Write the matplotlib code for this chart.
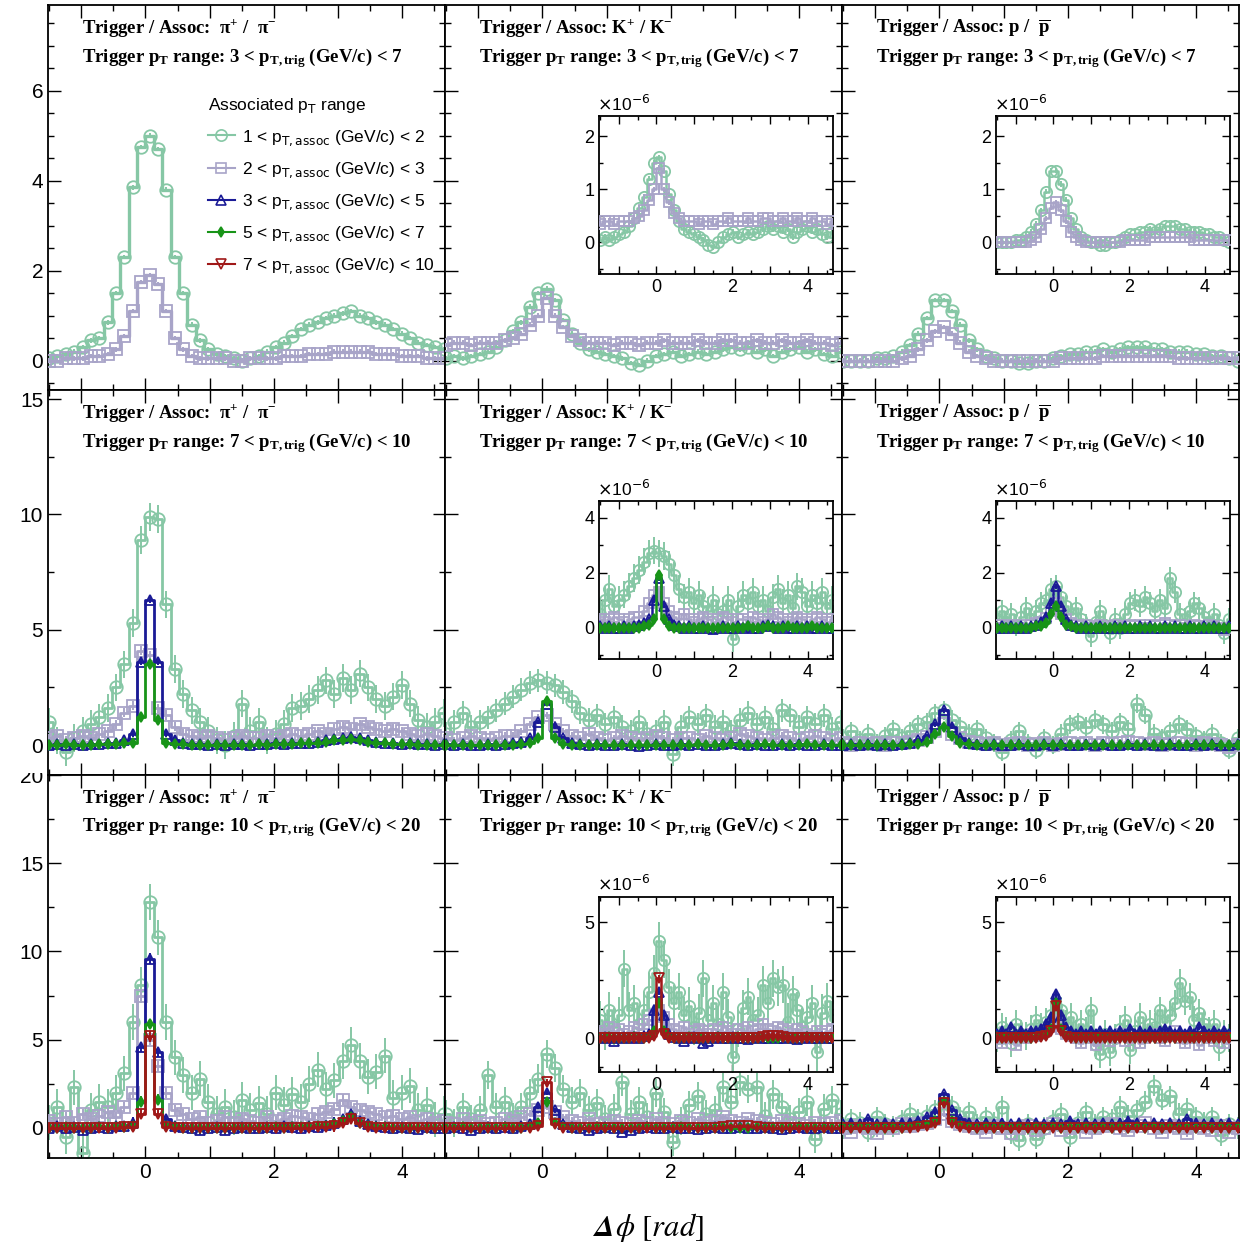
import numpy as np
import matplotlib
matplotlib.use("Agg")
import matplotlib.pyplot as plt
from matplotlib.lines import Line2D
from matplotlib.patches import Rectangle
from matplotlib.ticker import MultipleLocator, FuncFormatter
from matplotlib.font_manager import FontProperties

plt.rcParams['font.family'] = 'Liberation Sans'
plt.rcParams['mathtext.fontset'] = 'custom'
plt.rcParams['mathtext.rm'] = 'Liberation Serif:bold'
plt.rcParams['mathtext.it'] = 'Liberation Serif:italic:bold'
plt.rcParams['mathtext.bf'] = 'Liberation Serif:bold'

# 48 delta-phi bins from -pi/2 to 3pi/2
NBINS = 48
DPHI = -np.pi / 2 + (np.arange(NBINS) + 0.5) * 2 * np.pi / NBINS

# ---- trigger 3 < pT < 7 ----
pi_t1_a1 = [0.05, 0.1, 0.15, 0.2, 0.3, 0.45, 0.5, 0.85, 1.5, 2.3, 3.85, 4.75,
            5.0, 4.7, 3.8, 2.3, 1.5, 0.8, 0.45, 0.25, 0.15, 0.1, 0.05, 0.0,
            0.05, 0.1, 0.2, 0.3, 0.4, 0.55, 0.7, 0.8, 0.85, 0.95, 1.0, 1.05,
            1.1, 1.0, 0.95, 0.85, 0.8, 0.7, 0.6, 0.5, 0.4, 0.35, 0.3, 0.25]
pi_t1_a2 = [0.0, 0.0, 0.05, 0.05, 0.05, 0.1, 0.1, 0.15, 0.25, 0.55, 1.1, 1.75,
            1.9, 1.7, 1.1, 0.5, 0.25, 0.1, 0.05, 0.05, 0.05, 0.05, 0.0, 0.0,
            0.05, 0.05, 0.05, 0.05, 0.1, 0.1, 0.1, 0.15, 0.15, 0.15, 0.2, 0.2,
            0.2, 0.2, 0.2, 0.15, 0.15, 0.15, 0.1, 0.1, 0.1, 0.05, 0.05, 0.05]
k_t1_a1 = [0.05, 0.1, 0.05, 0.1, 0.15, 0.2, 0.3, 0.45, 0.65, 0.85, 1.2, 1.5,
           1.6, 1.35, 0.9, 0.6, 0.4, 0.25, 0.2, 0.15, 0.1, 0.05, -0.05, -0.1,
           0.0, 0.1, 0.15, 0.2, 0.1, 0.15, 0.2, 0.15, 0.2, 0.25, 0.3, 0.25,
           0.3, 0.2, 0.25, 0.1, 0.2, 0.25, 0.3, 0.2, 0.25, 0.15, 0.1, 0.2]
k_t1_a2 = [0.35, 0.4, 0.4, 0.35, 0.4, 0.4, 0.4, 0.45, 0.5, 0.6, 0.8, 1.0,
           1.4, 1.0, 0.75, 0.55, 0.45, 0.4, 0.4, 0.4, 0.35, 0.4, 0.4, 0.35,
           0.4, 0.4, 0.45, 0.4, 0.4, 0.4, 0.45, 0.4, 0.4, 0.45, 0.45, 0.4,
           0.4, 0.45, 0.4, 0.4, 0.45, 0.4, 0.4, 0.45, 0.4, 0.4, 0.35, 0.4]
p_t1_a1 = [0.0, 0.0, 0.0, 0.0, 0.05, 0.05, 0.1, 0.2, 0.35, 0.6, 0.95, 1.35,
           1.35, 1.1, 0.8, 0.45, 0.25, 0.1, 0.05, 0.0, 0.0, -0.05, -0.05, 0.0,
           0.0, 0.05, 0.1, 0.15, 0.15, 0.2, 0.2, 0.25, 0.2, 0.25, 0.3, 0.3,
           0.3, 0.25, 0.25, 0.2, 0.2, 0.2, 0.15, 0.15, 0.1, 0.1, 0.05, 0.0]
p_t1_a2 = [0.0, 0.0, 0.0, 0.0, 0.0, 0.0, 0.0, 0.05, 0.1, 0.25, 0.45, 0.65,
           0.75, 0.6, 0.4, 0.2, 0.1, 0.05, 0.0, 0.0, 0.0, 0.0, 0.0, 0.0,
           0.0, 0.0, 0.05, 0.05, 0.05, 0.05, 0.05, 0.1, 0.1, 0.1, 0.1, 0.1,
           0.1, 0.1, 0.1, 0.1, 0.05, 0.05, 0.05, 0.05, 0.05, 0.05, 0.05, 0.05]

# ---- trigger 7 < pT < 10 ----
pi_t2_a1 = [1.0, 0.2, -0.3, 0.3, 0.6, 0.9, 1.2, 1.6, 2.5, 3.5, 5.3, 8.9,
            9.9, 9.8, 6.1, 3.3, 2.2, 1.5, 1.0, 0.6, 0.2, 0.0, 0.4, 1.8,
            0.6, 1.0, 0.2, 0.5, 0.9, 1.6, 1.7, 2.0, 2.4, 2.8, 2.2, 2.9,
            2.4, 3.1, 2.5, 2.0, 1.7, 2.1, 2.6, 1.8, 1.1, 0.8, 1.0, 1.4]
pi_t2_a2 = [0.3, 0.4, 0.2, 0.3, 0.4, 0.3, 0.5, 0.6, 0.9, 1.4, 1.7, 4.1,
            3.9, 1.6, 1.3, 0.8, 0.5, 0.4, 0.3, 0.4, 0.3, 0.2, 0.3, 0.4,
            0.3, 0.3, 0.4, 0.3, 0.4, 0.5, 0.4, 0.5, 0.6, 0.5, 0.7, 0.8,
            0.7, 0.9, 0.8, 0.7, 0.6, 0.7, 0.6, 0.5, 0.4, 0.5, 0.4, 0.3]
pi_t2_a3 = [0.0, 0.05, 0.0, 0.05, 0.0, 0.05, 0.05, 0.1, 0.1, 0.2, 0.5, 3.6,
            6.3, 3.6, 0.5, 0.2, 0.1, 0.05, 0.05, 0.0, 0.05, 0.0, 0.05, 0.05,
            0.0, 0.05, 0.05, 0.1, 0.05, 0.1, 0.1, 0.1, 0.15, 0.2, 0.25, 0.3,
            0.35, 0.3, 0.2, 0.15, 0.1, 0.1, 0.05, 0.1, 0.05, 0.05, 0.0, 0.05]
pi_t2_a4 = [0.0, 0.0, 0.05, 0.0, 0.0, 0.0, 0.05, 0.05, 0.05, 0.1, 0.1, 1.2,
            3.5, 1.1, 0.1, 0.05, 0.05, 0.0, 0.0, 0.0, 0.0, 0.0, 0.0, 0.0,
            0.0, 0.05, 0.0, 0.05, 0.05, 0.05, 0.1, 0.1, 0.1, 0.15, 0.2, 0.2,
            0.25, 0.2, 0.15, 0.1, 0.1, 0.05, 0.05, 0.05, 0.0, 0.0, 0.0, 0.0]
k_t2_a1 = [0.5, 1.0, 1.4, 0.8, 1.0, 1.2, 1.5, 1.8, 2.1, 2.4, 2.7, 2.8,
           2.7, 2.6, 2.3, 1.9, 1.4, 1.1, 1.3, 0.9, 1.2, 0.8, 0.6, 1.0,
           0.5, 0.6, 1.0, -0.4, 0.8, 1.2, 0.9, 1.3, 0.8, 1.0, 0.6, 1.1,
           1.4, 0.9, 1.2, 0.7, 1.5, 1.3, 0.8, 1.2, 0.9, 1.3, 0.7, 1.0]
k_t2_a2 = [0.3, 0.2, 0.3, 0.4, 0.3, 0.2, 0.3, 0.4, 0.4, 0.6, 0.9, 1.2,
           1.3, 0.9, 0.6, 0.4, 0.3, 0.5, 0.3, 0.2, 0.3, 0.4, 0.3, 0.2,
           0.3, 0.4, 0.3, 0.2, 0.3, 0.3, 0.2, 0.4, 0.3, 0.2, 0.3, 0.5,
           0.4, 0.3, 0.2, 0.3, 0.4, 0.3, 0.2, 0.3, 0.4, 0.3, 0.2, 0.3]
k_t2_a3 = [0.05, 0.0, 0.05, 0.0, 0.0, 0.05, 0.0, 0.05, 0.1, 0.15, 0.3, 1.0,
           1.8, 0.8, 0.3, 0.1, 0.05, 0.0, 0.05, 0.0, 0.0, 0.05, 0.0, -0.05,
           0.0, 0.05, 0.0, 0.0, 0.05, 0.0, 0.05, 0.0, 0.0, 0.05, 0.1, 0.05,
           0.0, 0.05, 0.0, 0.0, 0.05, 0.0, 0.05, 0.0, 0.0, 0.05, 0.0, 0.0]
k_t2_a4 = [0.0, 0.0, 0.0, 0.0, 0.0, 0.0, 0.0, 0.0, 0.0, 0.05, 0.1, 0.3,
           1.9, 0.3, 0.05, 0.0, 0.0, 0.0, 0.0, 0.0, 0.0, 0.0, 0.0, 0.0,
           0.0, 0.0, 0.0, 0.0, 0.0, 0.0, 0.05, 0.0, 0.0, 0.0, 0.05, 0.0,
           0.0, 0.0, 0.05, 0.0, 0.0, 0.0, 0.0, 0.05, 0.0, 0.0, 0.0, 0.0]
p_t2_a1 = [0.3, 0.6, 0.2, 0.5, 0.1, 0.4, 0.7, 0.3, 0.6, 0.9, 1.0, 1.4,
           1.5, 1.1, 0.8, 0.5, 0.7, 0.3, 0.1, -0.3, 0.2, 0.6, 0.1, -0.2,
           0.3, 0.0, 0.5, 0.9, 1.0, 0.8, 1.1, 0.9, 0.6, 1.0, 0.7, 1.8,
           1.3, 0.5, 0.3, 0.6, 0.9, 0.7, 0.4, 0.2, 0.5, 0.1, -0.2, 0.3]
p_t2_a2 = [0.1, 0.0, 0.1, 0.05, 0.1, 0.0, 0.1, 0.1, 0.15, 0.2, 0.35, 0.6,
           0.9, 0.5, 0.3, 0.15, 0.1, 0.05, 0.1, 0.0, 0.05, 0.1, 0.0, 0.05,
           0.1, 0.0, 0.05, 0.1, 0.05, 0.1, 0.0, 0.1, 0.05, 0.1, 0.15, 0.1,
           0.05, 0.1, 0.0, 0.05, 0.1, 0.05, 0.0, 0.1, 0.05, 0.0, -0.1, 0.0]
p_t2_a3 = [0.0, 0.05, 0.0, 0.05, 0.0, 0.05, 0.0, 0.05, 0.1, 0.2, 0.4, 0.9,
           1.5, 0.8, 0.3, 0.1, 0.05, 0.0, 0.05, 0.0, 0.0, 0.05, 0.0, 0.0,
           0.05, 0.0, 0.05, 0.0, 0.0, 0.05, 0.0, 0.05, 0.0, 0.0, 0.05, 0.0,
           0.05, 0.0, 0.0, 0.05, 0.0, 0.0, 0.05, 0.0, 0.05, 0.0, 0.0, 0.05]
p_t2_a4 = [0.0, 0.0, 0.0, 0.0, 0.0, 0.0, 0.0, 0.0, 0.05, 0.05, 0.15, 0.5,
           0.8, 0.4, 0.1, 0.05, 0.0, 0.0, 0.0, 0.0, 0.0, 0.0, 0.0, 0.0,
           0.0, 0.0, 0.0, 0.0, 0.0, 0.0, 0.0, 0.0, 0.0, 0.0, 0.0, 0.0,
           0.0, 0.0, 0.0, 0.0, 0.0, 0.0, 0.0, 0.0, 0.0, 0.0, 0.0, 0.0]

# ---- trigger 10 < pT < 20 ----
pi_t3_a1 = [0.3, 1.2, -0.5, 2.3, -1.4, 1.0, 1.5, 1.2, 2.0, 3.1, 6.0, 8.1,
            12.8, 10.8, 6.0, 4.0, 3.0, 2.0, 2.8, 1.5, 0.8, 1.2, 0.6, 1.6,
            1.0, 1.4, 0.8, 2.0, 1.3, 1.9, 1.5, 2.5, 3.3, 2.2, 2.7, 3.8,
            4.7, 3.8, 2.9, 3.2, 4.1, 1.7, 2.0, 2.4, 1.0, 1.3, 0.5, 0.8]
pi_t3_a2 = [0.4, 0.2, 0.6, 0.3, 0.8, 0.5, 0.7, 0.9, 0.6, 1.2, 2.0, 7.5,
            5.0, 3.5, 2.0, 1.0, 0.8, 0.5, 0.6, 0.3, 0.4, 0.6, 0.3, 0.5,
            0.4, 0.3, 0.6, 0.4, 0.5, 0.7, 0.6, 0.5, 0.8, 0.9, 1.1, 1.6,
            1.2, 1.0, 0.9, 0.8, 0.6, 0.7, 0.5, 0.6, 0.4, 0.5, 0.3, 0.4]
pi_t3_a3 = [0.0, 0.1, 0.0, 0.05, -0.1, 0.0, 0.05, 0.0, 0.1, 0.1, 0.3, 4.6,
            9.6, 4.3, 0.5, 0.1, 0.05, 0.0, -0.1, 0.0, 0.05, -0.1, 0.0, 0.05,
            0.0, 0.0, 0.05, 0.0, 0.1, 0.05, 0.0, 0.1, 0.05, 0.15, 0.3, 0.5,
            0.8, 0.4, 0.2, 0.1, 0.05, 0.0, 0.05, 0.0, -0.05, 0.05, 0.0, 0.0]
pi_t3_a4 = [0.0, 0.0, 0.05, 0.0, 0.0, 0.0, 0.05, 0.0, 0.05, 0.05, 0.1, 1.5,
            5.9, 1.6, 0.1, 0.05, 0.0, 0.0, 0.0, 0.0, 0.0, 0.0, 0.0, 0.0,
            0.0, 0.0, 0.0, 0.05, 0.0, 0.05, 0.05, 0.05, 0.1, 0.1, 0.2, 0.4,
            0.6, 0.3, 0.1, 0.05, 0.05, 0.0, 0.0, 0.0, 0.0, 0.0, 0.0, 0.0]
pi_t3_a5 = [0.0, 0.0, 0.0, 0.0, 0.0, 0.0, 0.0, 0.0, 0.0, 0.05, 0.05, 0.8,
            5.2, 0.8, 0.05, 0.0, 0.0, 0.0, 0.0, 0.0, 0.0, 0.0, 0.0, 0.0,
            0.0, 0.0, 0.0, 0.0, 0.0, 0.0, 0.0, 0.0, 0.05, 0.05, 0.1, 0.3,
            0.5, 0.3, 0.05, 0.0, 0.0, 0.0, 0.0, 0.0, 0.0, 0.0, 0.0, 0.0]
k_t3_a1 = [0.8, 0.3, 1.2, 0.5, 1.0, 3.0, 1.2, 1.5, 0.6, 1.2, 2.0, 2.8,
           4.2, 3.4, 2.2, 1.5, 2.0, 1.0, 1.4, 0.5, 1.1, 2.6, 0.8, 1.5,
           0.6, 2.0, 0.9, -0.8, 0.4, 1.3, 1.8, 0.8, 1.0, 2.3, 1.5, 2.6,
           2.2, 2.3, 0.7, 1.9, 1.2, 0.5, 0.9, 1.5, -0.6, 1.1, 1.6, 0.8]
k_t3_a2 = [0.3, 0.2, 0.5, 0.3, 0.4, 0.2, 0.3, 0.5, 0.4, 0.6, 0.8, 1.0,
           1.2, 0.9, 0.6, 0.4, 0.3, 0.5, 0.2, 0.3, 0.4, 0.3, 0.2, 0.4,
           0.3, 0.5, 0.3, 0.2, 0.4, 0.3, 0.5, 0.3, 0.4, 0.6, 0.4, 0.3,
           0.5, 0.4, 0.3, 0.2, 0.4, 0.3, 0.2, 0.1, 0.3, 0.2, 0.3, 0.4]
k_t3_a3 = [0.0, 0.05, 0.0, -0.1, 0.0, 0.05, 0.0, 0.05, 0.0, 0.1, 0.2, 1.2,
           2.0, 1.0, 0.2, 0.05, 0.0, -0.1, 0.0, 0.05, 0.0, -0.2, -0.1, 0.0,
           0.05, 0.0, 0.0, 0.05, 0.0, 0.0, -0.05, 0.0, 0.05, 0.0, 0.0, 0.05,
           0.0, 0.0, 0.05, 0.0, -0.05, 0.0, 0.05, 0.0, 0.0, 0.05, 0.0, 0.0]
k_t3_a4 = [0.0, 0.0, 0.05, 0.0, 0.0, 0.0, 0.0, 0.05, 0.0, 0.0, 0.05, 0.3,
           1.5, 0.3, 0.05, 0.0, 0.0, 0.0, 0.05, 0.0, 0.0, 0.0, 0.0, 0.0,
           0.05, 0.0, 0.0, 0.0, 0.05, 0.0, 0.0, 0.0, 0.0, 0.05, 0.0, 0.0,
           0.0, 0.05, 0.0, 0.0, 0.0, 0.0, 0.05, 0.0, 0.0, 0.0, 0.0, 0.0]
k_t3_a5 = [0.0, 0.0, 0.0, 0.0, 0.0, 0.0, 0.0, 0.0, 0.0, 0.0, 0.0, 0.1,
           2.6, 0.2, 0.0, 0.0, 0.0, 0.0, 0.0, 0.0, 0.0, 0.0, 0.0, 0.0,
           0.0, 0.0, 0.0, 0.0, 0.0, 0.0, 0.0, 0.0, 0.0, 0.05, 0.1, 0.1,
           0.1, 0.05, 0.0, 0.0, 0.0, 0.0, 0.0, 0.0, 0.0, 0.0, 0.0, 0.0]
p_t3_a1 = [0.0, 0.5, 0.3, -0.2, 0.6, 0.2, 0.1, 0.4, 0.8, 0.5, 0.7, 1.0,
           1.4, 1.2, 0.6, 0.9, 0.2, 0.6, 0.3, 1.2, -0.3, -0.7, 0.2, -0.6,
           0.0, 0.4, 0.8, -0.5, 0.3, 0.9, 0.2, 0.6, 0.5, 1.2, 0.7, 1.0,
           1.5, 2.4, 1.6, 1.8, 0.8, 1.1, 0.6, 0.3, 0.6, -0.4, 0.2, 0.0]
p_t3_a2 = [0.0, -0.2, 0.1, 0.0, -0.3, 0.1, 0.0, 0.2, 0.1, 0.2, 0.3, 0.5,
           0.8, 0.4, 0.2, 0.1, 0.0, -0.2, 0.1, 0.0, -0.3, 0.0, 0.1, -0.1,
           0.0, 0.2, -0.1, 0.0, 0.1, -0.2, 0.0, 0.1, 0.2, 0.0, -0.1, 0.1,
           0.3, 0.0, -0.2, 0.1, 0.0, -0.3, 0.1, 0.0, -0.1, 0.1, -0.2, 0.0]
p_t3_a3 = [0.2, 0.3, 0.2, 0.5, 0.2, 0.3, 0.2, 0.3, 0.3, 0.4, 0.6, 0.9,
           1.9, 1.0, 0.5, 0.3, 0.2, 0.3, 0.2, 0.3, 0.2, 0.3, 0.2, 0.3,
           0.2, 0.3, 0.2, 0.4, 0.2, 0.3, 0.2, 0.3, 0.2, 0.3, 0.4, 0.3,
           0.2, 0.3, 0.2, 0.3, 0.2, 0.5, 0.3, 0.2, 0.3, 0.2, 0.3, 0.2]
p_t3_a4 = [0.05, 0.0, 0.05, 0.0, 0.05, 0.0, 0.05, 0.0, 0.05, 0.1, 0.15, 0.4,
           1.5, 0.4, 0.1, 0.05, 0.0, 0.05, 0.0, 0.05, 0.0, 0.05, 0.0, 0.05,
           0.0, 0.05, 0.0, 0.05, 0.0, 0.05, 0.0, 0.05, 0.0, 0.05, 0.0, 0.05,
           0.0, 0.05, 0.0, 0.05, 0.0, 0.05, 0.0, 0.05, 0.0, 0.05, 0.0, 0.05]
p_t3_a5 = [0.0, 0.0, 0.0, 0.0, 0.0, 0.0, 0.0, 0.0, 0.0, 0.05, 0.1, 0.3,
           1.4, 0.3, 0.05, 0.0, 0.0, 0.0, 0.0, 0.0, 0.0, 0.0, 0.0, 0.0,
           0.0, 0.0, 0.0, 0.0, 0.0, 0.0, 0.0, 0.0, 0.0, 0.0, 0.0, 0.0,
           0.0, 0.0, 0.0, 0.0, 0.0, 0.0, 0.0, 0.0, 0.0, 0.0, 0.0, 0.0]

# typical statistical error of each series, per panel
err_pi_t1 = [0.05, 0.05]
err_k_t1 = [0.05, 0.05]
err_p_t1 = [0.05, 0.05]
err_pi_t2 = [0.6, 0.2, 0.15, 0.15]
err_k_t2 = [0.5, 0.15, 0.1, 0.1]
err_p_t2 = [0.4, 0.1, 0.1, 0.1]
err_pi_t3 = [1.0, 0.3, 0.3, 0.3, 0.3]
err_k_t3 = [0.8, 0.2, 0.15, 0.15, 0.15]
err_p_t3 = [0.6, 0.2, 0.15, 0.15, 0.15]

PANELS = [
    [([pi_t1_a1, pi_t1_a2], err_pi_t1), ([k_t1_a1, k_t1_a2], err_k_t1), ([p_t1_a1, p_t1_a2], err_p_t1)],
    [([pi_t2_a1, pi_t2_a2, pi_t2_a3, pi_t2_a4], err_pi_t2),
     ([k_t2_a1, k_t2_a2, k_t2_a3, k_t2_a4], err_k_t2),
     ([p_t2_a1, p_t2_a2, p_t2_a3, p_t2_a4], err_p_t2)],
    [([pi_t3_a1, pi_t3_a2, pi_t3_a3, pi_t3_a4, pi_t3_a5], err_pi_t3),
     ([k_t3_a1, k_t3_a2, k_t3_a3, k_t3_a4, k_t3_a5], err_k_t3),
     ([p_t3_a1, p_t3_a2, p_t3_a3, p_t3_a4, p_t3_a5], err_p_t3)],
]

SPECIES = [r'Trigger / Assoc:  $\mathrm{\pi}^{+}$ /  $\mathrm{\pi}^{-}$',
           r'Trigger / Assoc: K$^{+}$ / K$^{-}$',
           r'Trigger / Assoc: p /  $\overline{\mathrm{p}}$']
TRIG_RANGES = [('3', '7'), ('7', '10'), ('10', '20')]
ASSOC_RANGES = [('1', '2'), ('2', '3'), ('3', '5'), ('5', '7'), ('7', '10')]

STYLES = [
    dict(color='#86c7a5', marker='o', ms=9.0, mfc='none'),
    dict(color='#a8a4c8', marker='s', ms=8.5, mfc='none'),
    dict(color='#1a1a96', marker='^', ms=7.5, mfc='none'),
    dict(color='#189418', marker='d', ms=5.5, mfc='#189418'),
    dict(color='#a01818', marker='v', ms=7.5, mfc='none'),
]

XLIM = (-1.52, 4.67)
YLIM_MAIN = [(-0.65, 7.9), (-1.3, 15.4), (-1.7, 20.0)]
YTICK_MAIN = [(2, 0.5), (5, 2.5), (5, 2.5)]
YLIM_INSET = [(-0.6, 2.38), (-1.14, 4.6), (-1.46, 6.1)]
YTICK_INSET = [(1, 0.5), (2, 1), (5, 1.25)]

W, H = 1240.0, 1254.0
COL_X = [48, 445, 842]
COL_W = 397
ROW_Y = [5, 390, 775]
ROW_H = [385, 385, 383]
INSET_DX, INSET_W = 154, 234
INSET_BOX = [(111, 158), (111, 158), (122, 175)]

fig = plt.figure(figsize=(12.4, 12.54), dpi=100)


def px_axes(x, y, w, h):
    return fig.add_axes([x / W, 1 - (y + h) / H, w / W, h / H])


def even_label(v, pos):
    n = int(round(v))
    if abs(v - n) < 1e-6 and n % 2 == 0:
        return str(n)
    return ''


def draw_series(ax, series, errs, lw, ms_scale):
    for k, (vals, e) in enumerate(zip(series, errs)):
        st = STYLES[k]
        y = np.asarray(vals)
        ax.plot(DPHI, y, drawstyle='steps-mid', color=st['color'], lw=lw, zorder=2 + k)
        ax.errorbar(DPHI, y, yerr=e, fmt=st['marker'], ms=st['ms'] * ms_scale,
                    mfc=st['mfc'], mec=st['color'], mew=1.3, ecolor=st['color'],
                    elinewidth=1.4, capsize=0, zorder=2 + k)


def style_ticks(ax, xmaj, xmin, ymaj, ymin, size, long, yfmt=None):
    ax.xaxis.set_major_locator(MultipleLocator(xmaj))
    ax.xaxis.set_minor_locator(MultipleLocator(xmin))
    ax.yaxis.set_major_locator(MultipleLocator(ymaj))
    ax.yaxis.set_minor_locator(MultipleLocator(ymin))
    ax.xaxis.set_major_formatter(FuncFormatter(even_label))
    if yfmt is not None:
        ax.yaxis.set_major_formatter(yfmt)
    ax.tick_params(which='both', direction='in', top=True, right=True,
                   labelsize=size, width=1.0, colors='black')
    ax.tick_params(which='major', length=long)
    ax.tick_params(which='minor', length=long * 0.5)
    for s in ax.spines.values():
        s.set_linewidth(1.3)


int_label = FuncFormatter(lambda v, p: '%d' % round(v))

for r in range(3):
    for c in range(3):
        series, errs = PANELS[r][c]
        ax = px_axes(COL_X[c], ROW_Y[r], COL_W, ROW_H[r])
        draw_series(ax, series, errs, lw=2.4 if r == 0 else 2.0, ms_scale=1.0)
        ax.set_xlim(XLIM)
        ax.set_ylim(YLIM_MAIN[r])
        style_ticks(ax, 1, 0.5, YTICK_MAIN[r][0], YTICK_MAIN[r][1], 15, 9, int_label)
        ax.tick_params(labelleft=(c == 0), labelbottom=(r == 2))

        lo, hi = TRIG_RANGES[r]
        ax.text(0.086, 0.927, SPECIES[c], transform=ax.transAxes, family='Liberation Serif',
                weight='bold', fontsize=13.5, clip_on=True, zorder=10)
        ax.text(0.086, 0.852,
                r'Trigger p$_{\mathrm{T}}$ range: %s < p$_{\mathrm{T,trig}}$ (GeV/c) < %s' % (lo, hi),
                transform=ax.transAxes, family='Liberation Serif', weight='bold',
                fontsize=13.5, clip_on=True, zorder=10)

        if r == 0 and c == 0:
            handles = []
            labels = []
            for k, (a, b) in enumerate(ASSOC_RANGES):
                st = STYLES[k]
                handles.append(Line2D([], [], color=st['color'], lw=1.5, marker=st['marker'],
                                      ms=st['ms'] * 0.9, mfc=st['mfc'], mec=st['color'], mew=1.2))
                labels.append(r'%s < p$_{\mathrm{T,assoc}}$ (GeV/c) < %s' % (a, b))
            sans = FontProperties(family='Liberation Sans', size=12.5, math_fontfamily='dejavusans')
            ax.legend(handles, labels, loc='upper left', bbox_to_anchor=(0.38, 0.785),
                      frameon=False, prop=sans, title=r'Associated p$_{\mathrm{T}}$ range',
                      title_fontproperties=sans, alignment='left', borderpad=0,
                      handlelength=1.6, handletextpad=0.4, labelspacing=0.72)

        # zoomed view of the same distribution for kaons and protons
        if c > 0:
            dy, hh = INSET_BOX[r]
            axi = px_axes(COL_X[c] + INSET_DX, ROW_Y[r] + dy, INSET_W, hh)
            draw_series(axi, series, errs, lw=1.8, ms_scale=0.9)
            axi.set_xlim(XLIM)
            axi.set_ylim(YLIM_INSET[r])
            style_ticks(axi, 1, 0.5, YTICK_INSET[r][0], YTICK_INSET[r][1], 13, 6, int_label)
            axi.text(-0.01, 1.015, r'$\times$10$^{-6}$', transform=axi.transAxes,
                     fontsize=12.5, ha='left', va='bottom', math_fontfamily='dejavusans')

# the pad above hides the upper half of the bottom row's top label
fig.add_artist(Rectangle((0, 1 - 773 / H), 46 / W, 14 / H, transform=fig.transFigure,
                         facecolor='white', edgecolor='none', zorder=5))

fig.text(0.523, 0.021, r'$\mathbfit{\Delta}\phi\ [rad]$', fontsize=22, ha='center',
         va='center', math_fontfamily='stix')

fig.savefig('out.png', dpi=100)
